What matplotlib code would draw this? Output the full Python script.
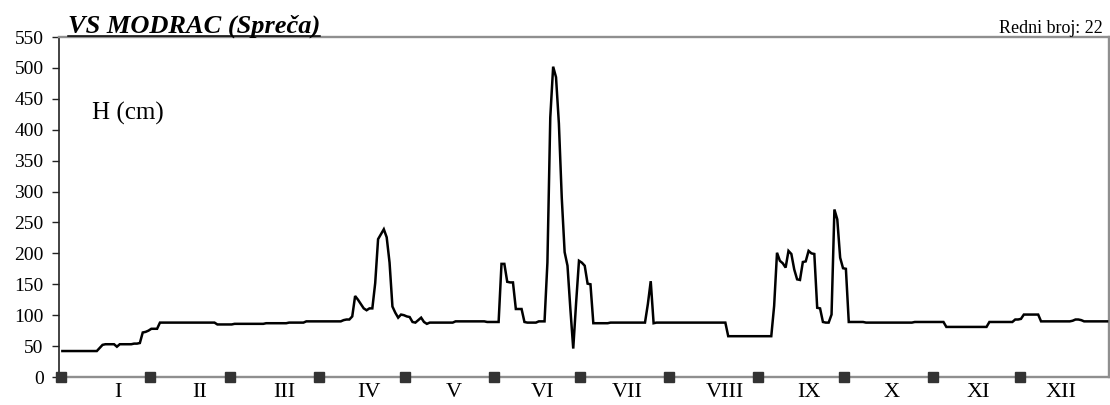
import matplotlib
matplotlib.use("Agg")
import matplotlib.pyplot as plt
from matplotlib.lines import Line2D
import numpy as np

plt.rcParams['font.family'] = ['Liberation Serif', 'DejaVu Serif']

# daily water level H (cm), one list per month
jan = [42, 42, 42, 42, 42, 42, 42, 42, 42, 42,
       42, 42, 42, 47, 52, 53, 53, 53, 53, 49,
       53, 53, 53, 53, 53, 54, 54, 55, 72, 73, 75]
feb = [78, 78, 78, 88, 88, 88, 88, 88, 88, 88,
       88, 88, 88, 88, 88, 88, 88, 88, 88, 88,
       88, 88, 88, 85, 85, 85, 85, 85]
mar = [85, 86, 86, 86, 86, 86, 86, 86, 86, 86,
       86, 86, 87, 87, 87, 87, 87, 87, 87, 87,
       88, 88, 88, 88, 88, 88, 90, 90, 90, 90, 90]
apr = [90, 90, 90, 90, 90, 90, 90, 90, 92, 93,
       93, 98, 131, 125, 118, 111, 108, 111, 111, 152,
       223, 231, 239, 226, 185, 114, 104, 96, 101, 100]
may = [98, 97, 89, 88, 92, 96, 89, 86, 88, 88,
       88, 88, 88, 88, 88, 88, 88, 90, 90, 90,
       90, 90, 90, 90, 90, 90, 90, 90, 89, 89, 89]
jun = [89, 89, 183, 183, 154, 153, 153, 110, 110, 110,
       89, 88, 88, 88, 88, 90, 90, 90, 185, 420,
       502, 485, 410, 290, 202, 180, 110, 46, 120, 188]
jul = [185, 180, 151, 150, 87, 87, 87, 87, 87, 87,
       88, 88, 88, 88, 88, 88, 88, 88, 88, 88,
       88, 88, 88, 118, 155, 87, 88, 88, 88, 88, 88]
aug = [88, 88, 88, 88, 88, 88, 88, 88, 88, 88,
       88, 88, 88, 88, 88, 88, 88, 88, 88, 88,
       66, 66, 66, 66, 66, 66, 66, 66, 66, 66, 66]
sep = [66, 66, 66, 66, 66, 115, 201, 188, 184, 177,
       204, 199, 174, 158, 157, 186, 187, 204, 200, 199,
       112, 111, 89, 88, 88, 101, 271, 255, 193, 176]
oct_ = [175, 89, 89, 89, 89, 89, 89, 88, 88, 88,
        88, 88, 88, 88, 88, 88, 88, 88, 88, 88,
        88, 88, 88, 88, 89, 89, 89, 89, 89, 89, 89]
nov = [89, 89, 89, 89, 81, 81, 81, 81, 81, 81,
       81, 81, 81, 81, 81, 81, 81, 81, 81, 89,
       89, 89, 89, 89, 89, 89, 89, 89, 93, 93]
dec = [94, 101, 101, 101, 101, 101, 101, 90, 90, 90,
       90, 90, 90, 90, 90, 90, 90, 90, 91, 93,
       93, 92, 90, 90, 90, 90, 90, 90, 90, 90, 90]

months = [jan, feb, mar, apr, may, jun, jul, aug, sep, oct_, nov, dec]
month_labels = ['I', 'II', 'III', 'IV', 'V', 'VI', 'VII', 'VIII', 'IX', 'X', 'XI', 'XII']
label_pos = [19.8, 48.4, 77.7, 107.5, 136.8, 167.9, 197.2, 231.4, 260.6, 289.5, 319.7, 348.4]

h = np.concatenate(months)
month_len = [len(m) for m in months]
month_start = np.concatenate([[0], np.cumsum(month_len)[:-1]])
assert len(h) == 365, month_len

fig = plt.figure(figsize=(11.1, 4.05), dpi=100)
ax = fig.add_axes([58.5 / 1110, 28 / 405, 1050 / 1110, 340 / 405])

days = np.arange(len(h)) + 0.5
ax.plot(days, h, color='black', lw=1.8, solid_joinstyle='miter', zorder=3)

# month boundary markers on the zero line
ax.plot(month_start, np.zeros(len(month_start)), ls='none', marker='s',
        ms=7.5, color='#333333', clip_on=False, zorder=4)

ax.set_xlim(-0.85, 365)
ax.set_ylim(0, 550)
ax.set_yticks(np.arange(0, 551, 50))
ax.set_xticks([])
ax.tick_params(axis='y', direction='out', length=4.7, width=1, pad=6,
               labelsize=14, color='#222222')

for side in ['top', 'right', 'bottom']:
    ax.spines[side].set_color('#8f8f8f')
    ax.spines[side].set_linewidth(1.7)
ax.spines['left'].set_color('#222222')
ax.spines['left'].set_linewidth(1.2)

for pos, lab in zip(label_pos, month_labels):
    ax.text(pos, -0.058, lab, transform=ax.get_xaxis_transform(),
            ha='center', va='baseline', fontsize=16)

ax.text(0.032, 0.775, 'H (cm)', transform=ax.transAxes, fontsize=18,
        ha='left', va='center')

title = fig.text(68 / 1110, (405 - 33) / 405, 'VS MODRAC (Spreča)',
                 fontsize=19, fontweight='bold', fontstyle='italic',
                 ha='left', va='baseline')
fig.text(1103 / 1110, (405 - 33) / 405, 'Redni broj: 22', fontsize=13,
         ha='right', va='baseline')

# underline the station name
fig.canvas.draw()
bb = title.get_window_extent()
uy = (405 - 35.5) / 405
fig.add_artist(Line2D([bb.x0 / fig.bbox.width, bb.x1 / fig.bbox.width], [uy, uy],
                      transform=fig.transFigure, color='black', lw=1.1))

fig.savefig('out.png', dpi=100)
